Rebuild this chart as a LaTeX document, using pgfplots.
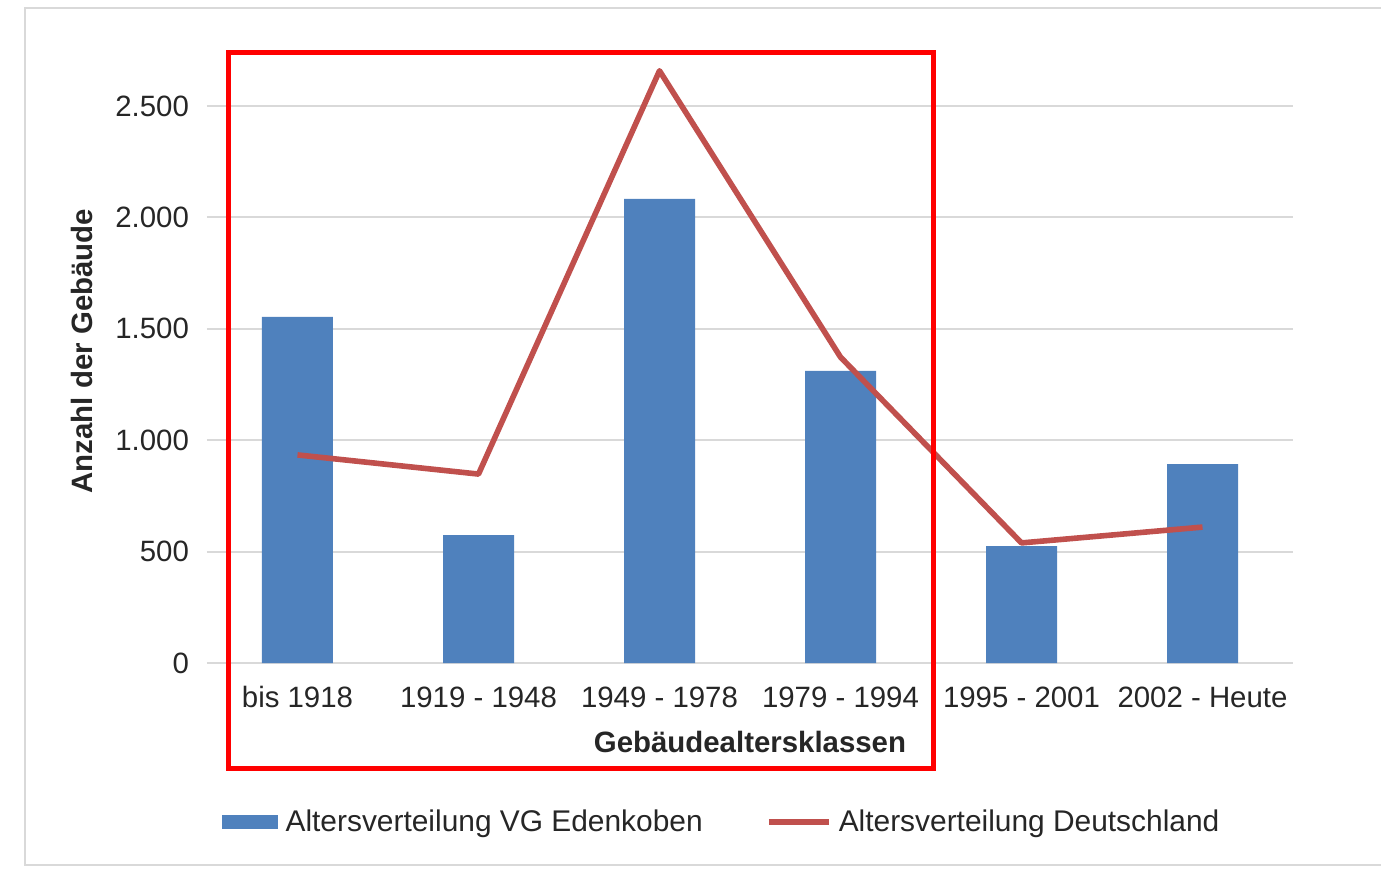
\documentclass[border=0pt]{standalone}
\usepackage{fontspec}
\setmainfont{Liberation Sans}
\usepackage{pgfplots}
\pgfplotsset{compat=1.18}
\definecolor{barblue}{HTML}{4F81BD}
\definecolor{linered}{HTML}{C0504D}
\definecolor{gridgray}{HTML}{D9D9D9}
\definecolor{txt}{HTML}{262626}
\begin{document}
\begin{tikzpicture}[font=\fontsize{14.7}{17.6}\selectfont]
\begin{axis}[
 at={(0,0)}, anchor=south west, scale only axis, width=543pt, height=306.35pt,
 xmin=-0.5, xmax=5.5, ymin=0, ymax=2750,
 xtick={0,...,5},
 xticklabels={bis 1918, 1919 - 1948, 1949 - 1978, 1979 - 1994, 1995 - 2001, 2002 - Heute},
 ytick={0,500,...,2500},
 ymajorgrids, grid style={gridgray, line width=1pt},
 axis line style={draw=none}, major tick length=0pt, tick style={draw=none},
 /pgf/number format/assume math mode=true,
 /pgf/number format/1000 sep={.},
 yticklabel style={xshift=-5.5pt, text=txt},
 xticklabel style={anchor=base, yshift=-22.4pt, text=txt},
 xlabel={Gebäudealtersklassen},
 xlabel style={at={(axis description cs:0.5,-0.1453)}, anchor=base, text=txt, font=\fontsize{14.7}{17.6}\selectfont\bfseries},
 ylabel={Anzahl der Gebäude},
 ylabel style={at={(axis description cs:-0.105,0.509)}, anchor=base, text=txt, font=\fontsize{14.7}{17.6}\selectfont\bfseries},
 clip=false,
 legend style={at={(axis description cs:0.4765,-0.2595)}, anchor=center, draw=none, fill=none, legend columns=2, /tikz/every even column/.append style={column sep=28pt}, text=txt, inner sep=0pt, font=\fontsize{14.95}{17.6}\selectfont, nodes={inner sep=3.6pt}},
 legend cell align=left,
]
\addplot[ybar, bar width=35.5pt, fill=barblue, draw=none,
  legend image code/.code={\fill[barblue] (0pt,-3.5pt) rectangle (28pt,3.5pt);}]
  coordinates {(0,1553) (1,574) (2,2083) (3,1311) (4,525) (5,893)};
\addlegendentry{Altersverteilung VG Edenkoben}
\addplot[linered, line width=2.8pt, line join=round, mark=none,
  legend image code/.code={\draw[linered, line width=2.8pt] (0pt,0pt)--(30pt,0pt);}]
  coordinates {(0,934) (1,848) (2,2658) (3,1373) (4,539) (5,610)};
\addlegendentry{Altersverteilung Deutschland}
\end{axis}
\draw[gridgray, line width=1pt] (587pt,327.5pt) -- (-91pt,327.5pt) -- (-91pt,-101pt) -- (587pt,-101pt);
\draw[red, line width=2.5pt] (11pt,305pt) rectangle (363pt,-52.5pt);
\pgfresetboundingbox
\path[use as bounding box] (-103.5pt,-105.5pt) rectangle (587pt,331.5pt);
\end{tikzpicture}
\end{document}
